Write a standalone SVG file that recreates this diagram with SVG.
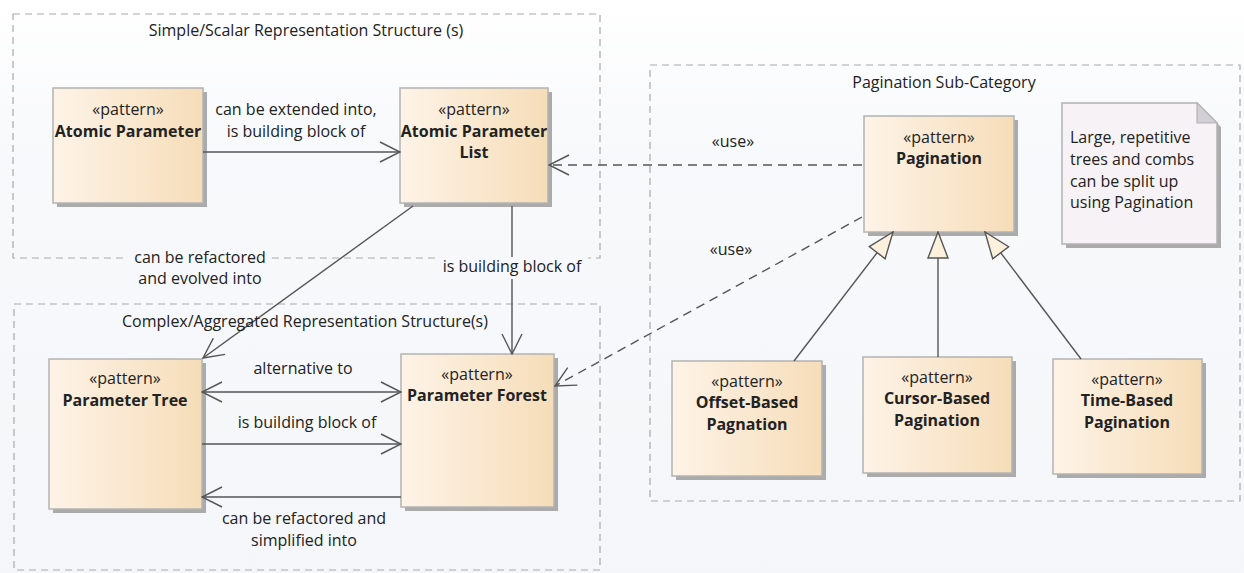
<svg xmlns="http://www.w3.org/2000/svg" width="1244" height="573" viewBox="0 0 1244 573">
  <defs>
    <linearGradient id="bg" x1="0" y1="0" x2="0" y2="1">
      <stop offset="0" stop-color="#ffffff"/>
      <stop offset="0.25" stop-color="#f8f9fb"/>
      <stop offset="1" stop-color="#f4f6f9"/>
    </linearGradient>
    <linearGradient id="nodeFill" x1="0" y1="0" x2="1" y2="0">
      <stop offset="0" stop-color="#fdf3e7"/>
      <stop offset="1" stop-color="#f6ddb9"/>
    </linearGradient>
    <marker id="open" viewBox="0 0 22 22" refX="21" refY="11" markerWidth="22" markerHeight="22" markerUnits="userSpaceOnUse" orient="auto-start-reverse">
      <path d="M1,1 L21,11 L1,21" fill="none" stroke="#555" stroke-width="1.4"/>
    </marker>
    <marker id="gen" viewBox="0 0 28 24" refX="27" refY="12" markerWidth="28" markerHeight="24" markerUnits="userSpaceOnUse" orient="auto">
      <path d="M1,2 L27,12 L1,22 Z" fill="#fdf1de" stroke="#555" stroke-width="1.4"/>
    </marker>
  </defs>
  <style>
    text { font-family: "Open Sans", "Liberation Sans", sans-serif; font-size: 16px; fill: #222; }
    .stereo { text-anchor: middle; }
    .name { text-anchor: middle; font-weight: bold; }
    .lbl { text-anchor: middle; }
    .pkg { fill: none; stroke: #a9a9a9; stroke-width: 1.2; stroke-dasharray: 7 5; }
    .box { fill: url(#nodeFill); stroke: #b3b3b3; stroke-width: 1.5; }
    .shadow { fill: #ababab; }
    .conn { fill: none; stroke: #555; stroke-width: 1.4; }
    .dash { stroke-dasharray: 9 6; }
    .lblbg { fill: #f7f8fb; }
  </style>

  <rect width="1244" height="573" fill="url(#bg)"/>

  <!-- packages -->
  <g id="pkg-simple">
    <rect class="pkg" x="13" y="14" width="587" height="244"/>
    <text class="lbl" x="306" y="36">Simple/Scalar Representation Structure (s)</text>
  </g>
  <g id="pkg-complex">
    <rect class="pkg" x="14" y="304" width="586" height="266"/>
  </g>
  <g id="pkg-pagination">
    <rect class="pkg" x="650" y="65" width="590" height="436"/>
    <text class="lbl" x="944" y="88">Pagination Sub-Category</text>
  </g>

  <!-- nodes -->
  <g id="atomic-parameter">
    <rect class="shadow" x="57" y="92" width="150" height="115"/>
    <rect class="box" x="53" y="88" width="150" height="115"/>
    <text class="stereo" x="128" y="115">«pattern»</text>
    <text class="name" x="128" y="137">Atomic Parameter</text>
  </g>
  <g id="atomic-parameter-list">
    <rect class="shadow" x="404" y="92" width="148" height="115"/>
    <rect class="box" x="400" y="88" width="148" height="115"/>
    <text class="stereo" x="474" y="115">«pattern»</text>
    <text class="name" x="474" y="137">Atomic Parameter</text>
    <text class="name" x="474" y="158">List</text>
  </g>
  <g id="parameter-tree">
    <rect class="shadow" x="53" y="363" width="153" height="150"/>
    <rect class="box" x="49" y="359" width="153" height="150"/>
    <text class="stereo" x="125" y="384">«pattern»</text>
    <text class="name" x="125" y="406">Parameter Tree</text>
  </g>
  <g id="parameter-forest">
    <rect class="shadow" x="405" y="358" width="153" height="153"/>
    <rect class="box" x="401" y="354" width="153" height="153"/>
    <text class="stereo" x="477" y="380">«pattern»</text>
    <text class="name" x="477" y="401">Parameter Forest</text>
  </g>
  <g id="pagination">
    <rect class="shadow" x="868" y="120" width="150" height="116"/>
    <rect class="box" x="864" y="116" width="150" height="116"/>
    <text class="stereo" x="939" y="143">«pattern»</text>
    <text class="name" x="939" y="164">Pagination</text>
  </g>
  <g id="offset-based">
    <rect class="shadow" x="676" y="365" width="150" height="115"/>
    <rect class="box" x="672" y="361" width="150" height="115"/>
    <text class="stereo" x="747" y="387">«pattern»</text>
    <text class="name" x="747" y="408">Offset-Based</text>
    <text class="name" x="747" y="430">Pagnation</text>
  </g>
  <g id="cursor-based">
    <rect class="shadow" x="867" y="361" width="149" height="116"/>
    <rect class="box" x="863" y="357" width="149" height="116"/>
    <text class="stereo" x="937" y="383">«pattern»</text>
    <text class="name" x="937" y="404">Cursor-Based</text>
    <text class="name" x="937" y="426">Pagination</text>
  </g>
  <g id="time-based">
    <rect class="shadow" x="1057" y="363" width="149" height="115"/>
    <rect class="box" x="1053" y="359" width="149" height="115"/>
    <text class="stereo" x="1127" y="385">«pattern»</text>
    <text class="name" x="1127" y="406">Time-Based</text>
    <text class="name" x="1127" y="428">Pagination</text>
  </g>
  <g id="note">
    <path d="M1066,107 L1201,107 L1221,127 L1221,248 L1066,248 Z" fill="#ababab"/>
    <path d="M1062,103 L1197,103 L1217,123 L1217,244 L1062,244 Z" fill="#f7f2f5" stroke="#b3b3b3" stroke-width="1.5"/>
    <path d="M1197,103 L1197,123 L1217,123 Z" fill="#d3cfd6" stroke="#b3b3b3" stroke-width="1.2"/>
    <text x="1070" y="143">Large, repetitive</text>
    <text x="1070" y="165">trees and combs</text>
    <text x="1070" y="187">can be split up</text>
    <text x="1070" y="208">using Pagination</text>
  </g>

  <!-- connectors -->
  <g id="connectors">
    <line class="conn" x1="203" y1="152" x2="400" y2="152" marker-end="url(#open)"/>
    <text class="lbl" x="296" y="115">can be extended into,</text>
    <text class="lbl" x="296" y="137">is building block of</text>

    <line class="conn" x1="413" y1="206" x2="203" y2="358" marker-end="url(#open)"/>
    <rect class="lblbg" x="128" y="248" width="144" height="42"/>
    <text class="lbl" x="200" y="263">can be refactored</text>
    <text class="lbl" x="200" y="284">and evolved into</text>

    <line class="conn" x1="512" y1="206" x2="512" y2="354" marker-end="url(#open)"/>
    <rect class="lblbg" x="436" y="257" width="152" height="22"/>
    <text class="lbl" x="512" y="272">is building block of</text>

    <line class="conn" x1="202" y1="392" x2="401" y2="392" marker-start="url(#open)" marker-end="url(#open)"/>
    <text class="lbl" x="303" y="374">alternative to</text>

    <line class="conn" x1="202" y1="444" x2="401" y2="444" marker-end="url(#open)"/>
    <text class="lbl" x="307" y="428">is building block of</text>

    <line class="conn" x1="401" y1="497" x2="202" y2="497" marker-end="url(#open)"/>
    <text class="lbl" x="304" y="524">can be refactored and</text>
    <text class="lbl" x="304" y="546">simplified into</text>

    <line class="conn dash" x1="862" y1="165" x2="549" y2="165" marker-end="url(#open)"/>
    <text class="lbl" x="733" y="147">«use»</text>

    <line class="conn dash" x1="862" y1="217" x2="555" y2="386" marker-end="url(#open)"/>
    <text class="lbl" x="731" y="255">«use»</text>

    <line class="conn" x1="794" y1="361" x2="893" y2="232" marker-end="url(#gen)"/>
    <line class="conn" x1="938" y1="357" x2="938" y2="232" marker-end="url(#gen)"/>
    <line class="conn" x1="1081" y1="359" x2="985" y2="232" marker-end="url(#gen)"/>
  </g>
  <text class="lbl" x="305" y="327">Complex/Aggregated Representation Structure(s)</text>
</svg>
